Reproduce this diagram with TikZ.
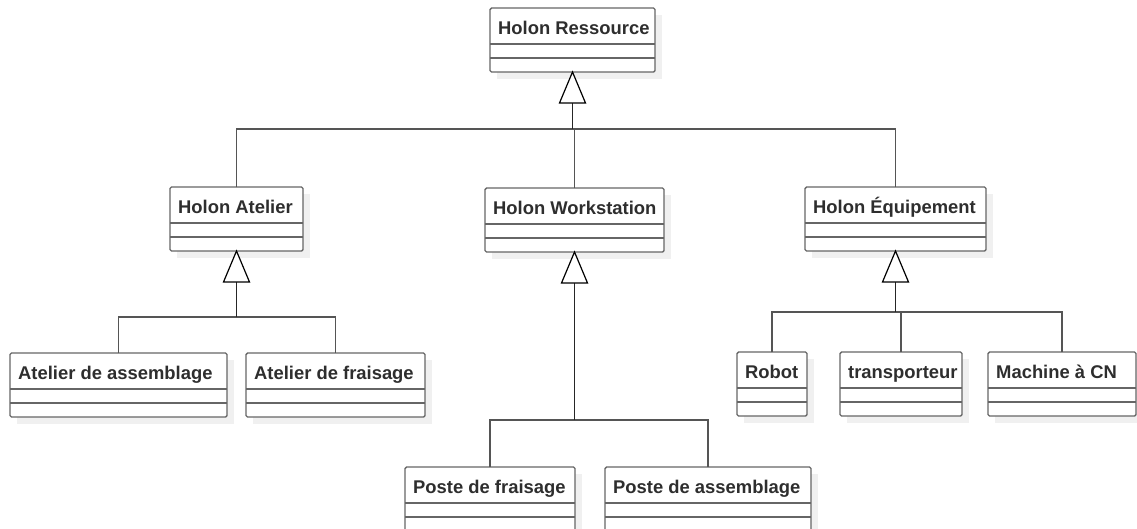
\documentclass[tikz,border=0pt]{standalone}
\usepackage{fontspec}
\setmainfont{Liberation Sans}
\definecolor{boxline}{HTML}{666666}
\definecolor{txtc}{HTML}{2E2E2E}
\definecolor{shadowc}{HTML}{F0F0F0}
\definecolor{connc}{HTML}{555555}
\tikzset{
  cbox/.style={draw=boxline, fill=white, line width=1.4pt, rounded corners=1.5pt, inner sep=0pt, outer sep=0pt},
  cline/.style={draw=boxline, line width=1.4pt},
  ctext/.style={text=txtc, font=\fontsize{18.4}{20}\selectfont\bfseries, inner sep=0pt},
  gen/.style={draw=black, fill=white, line width=1.2pt, line join=miter},
  stem/.style={draw=black!85, line width=1.8pt},
  conn/.style={draw=connc, line width=1.5pt},
}
\newcommand\umlclass[5]{%
  \pgfmathsetmacro\clsW{#4-#2}%
  \fill[shadowc] ({#2+7},{#3+7}) rectangle ({#4+7},{#3+71});
  \node[cbox, minimum width=\clsW pt, minimum height=64pt, anchor=north west] (#1) at (#2,#3) {};
  \draw[cline] ({#2},{#3+36}) -- ({#4},{#3+36}) ({#2},{#3+50}) -- ({#4},{#3+50});
  \node[ctext, anchor=base west] (#1-t) at ({#2+8},{#3+26}) {#5};
}
\begin{document}
\begin{tikzpicture}[x=1pt,y=-1pt]
\useasboundingbox (0,0) rectangle (1137,528);
% classes
\umlclass{res}{490}{8}{655}{Holon Ressource}
\umlclass{ate}{170}{187}{303}{Holon Atelier}
\umlclass{ws}{485}{188}{664}{Holon Workstation}
\umlclass{eq}{805}{187}{986}{Holon Équipement}
\umlclass{aa}{10}{353}{227}{Atelier de assemblage}
\umlclass{af}{246}{353}{425}{Atelier de fraisage}
\umlclass{rob}{737}{352}{807}{Robot}
\umlclass{tr}{840}{352}{962}{transporteur}
\umlclass{mcn}{988}{352}{1136}{Machine à CN}
\umlclass{pf}{405}{467}{575}{Poste de fraisage}
\umlclass{pa}{605}{467}{811}{Poste de assemblage}
% bus coordinates
\coordinate (bus1) at (572,129);
\coordinate (bus2) at (236,317);
\coordinate (bus3) at (574,420);
\coordinate (bus4) at (896,312);
% tree 1
\draw[conn] (ate.north) |- (bus1) -| (eq.north);
\draw[conn] (ws.north) -- (ws.north |- bus1);
\draw[stem] ([yshift=-31pt]res.south) -- (res.south |- bus1);
\draw[gen] (res.south) -- ++(-13,31) -- ++(26,0) -- cycle;
% tree 2
\draw[conn] (aa.north) |- (bus2) -| (af.north);
\draw[stem] ([yshift=-31pt]ate.south) -- (ate.south |- bus2);
\draw[gen] (ate.south) -- ++(-13,31) -- ++(26,0) -- cycle;
% tree 3
\draw[conn] (pf.north) |- (bus3) -| (pa.north);
\draw[stem] ([yshift=-31pt]ws.south) -- (ws.south |- bus3);
\draw[gen] (ws.south) -- ++(-13,31) -- ++(26,0) -- cycle;
% tree 4
\draw[conn] (rob.north) |- (bus4) -| (mcn.north);
\draw[conn] (tr.north) -- (tr.north |- bus4);
\draw[stem] ([yshift=-31pt]eq.south) -- (eq.south |- bus4);
\draw[gen] (eq.south) -- ++(-13,31) -- ++(26,0) -- cycle;
\end{tikzpicture}
\end{document}
